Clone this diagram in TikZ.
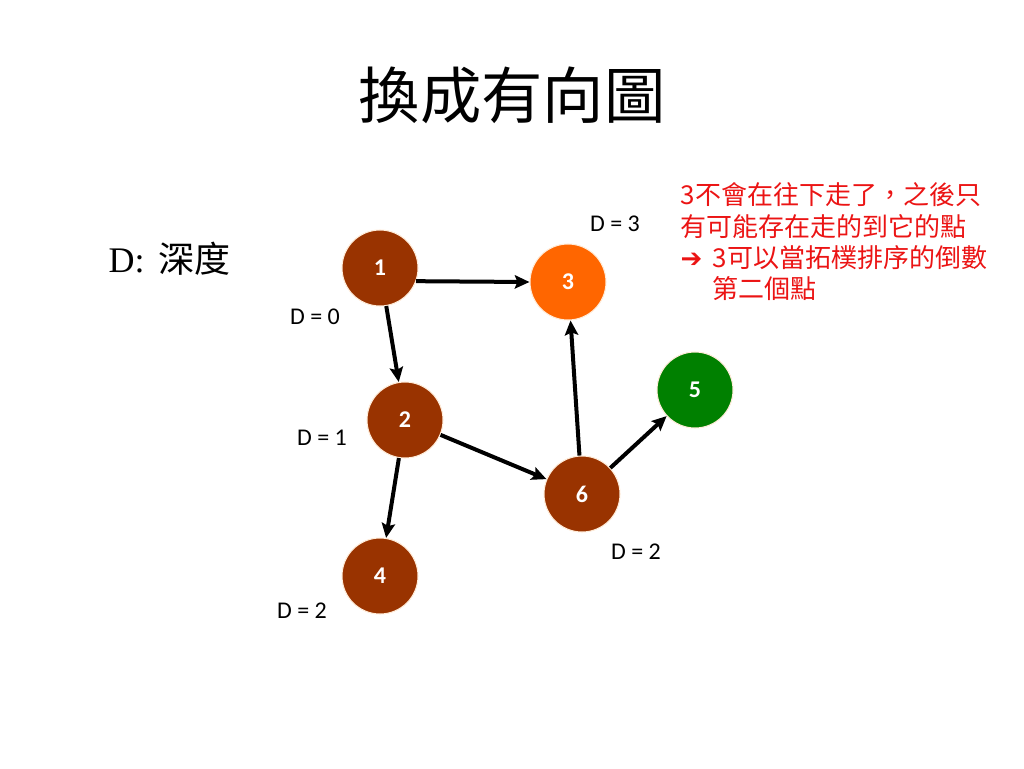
\documentclass[tikz,border=0pt]{standalone}
\usepackage{fontspec}
\setmainfont{Carlito}
\newfontfamily\cjk{Noto Sans CJK TC}
\newfontfamily\serifm{Liberation Serif}
\newfontfamily\dejavu{DejaVu Sans}
\usetikzlibrary{arrows, arrows.meta}
\definecolor{nodebrown}{RGB}{153,51,0}
\definecolor{nodeorange}{RGB}{255,102,0}
\definecolor{nodegreen}{RGB}{0,128,0}
\definecolor{notered}{RGB}{235,20,20}
\tikzstyle{arrow} = [line width=3pt,-{Stealth[length=11pt,width=10pt,inset=2pt]}]
\tikzstyle{vertex} = [circle, draw=orange!15, line width=0.8pt, minimum size=57pt,
text=white, font=\fontsize{18}{21}\selectfont\bfseries]
\tikzstyle{depth} = [font=\fontsize{18}{21}\selectfont]

\begin{document}
\begin{tikzpicture}[x=0.75pt, y=-0.75pt]
    \useasboundingbox (0,0) rectangle (1024,768);
    % Title and legend
    \node[font=\cjk\fontsize{46}{50}\selectfont] (title) at (512,95) {換成有向圖};
    \node[anchor=west, font=\fontsize{27}{32}\selectfont] (legend) at (104,259) {\serifm D:\hspace{10pt}\cjk 深度};

    % Nodes
    \node[vertex, fill=nodebrown]  (v1) at (380,268) {1};
    \node[vertex, fill=nodeorange] (v3) at (568,282) {3};
    \node[vertex, fill=nodebrown]  (v2) at (405,420) {2};
    \node[vertex, fill=nodegreen]  (v5) at (695,390) {5};
    \node[vertex, fill=nodebrown]  (v6) at (582,494) {6};
    \node[vertex, fill=nodebrown]  (v4) at (380,576) {4};

    % Depth labels
    \node[depth] (d3) at (615,224) {D = 3};
    \node[depth] (d1) at (315,317) {D = 0};
    \node[depth] (d2) at (322,438) {D = 1};
    \node[depth] (d6) at (636,552) {D = 2};
    \node[depth] (d4) at (302,611) {D = 2};

    % Arrows
    \draw[arrow] (v1.-20) -- (v3.west);
    \draw[arrow] (v1) -- (v2);
    \draw[arrow] (v2) -- (v4);
    \draw[arrow] (v2) -- (v6);
    \draw[arrow] (v6) -- (v3);
    \draw[arrow] (v6) -- (v5);

    % Note
    \node[anchor=north west, align=left, text=notered, font=\cjk\fontsize{19.5}{23.5}\selectfont]
        (note) at (676,178) {3不會在往下走了，之後只\\有可能存在走的到它的點\\\makebox[24pt][l]{\dejavu\bfseries ➔}3可以當拓樸排序的倒數\\\hspace*{24pt}第二個點};

\end{tikzpicture}
\end{document}
